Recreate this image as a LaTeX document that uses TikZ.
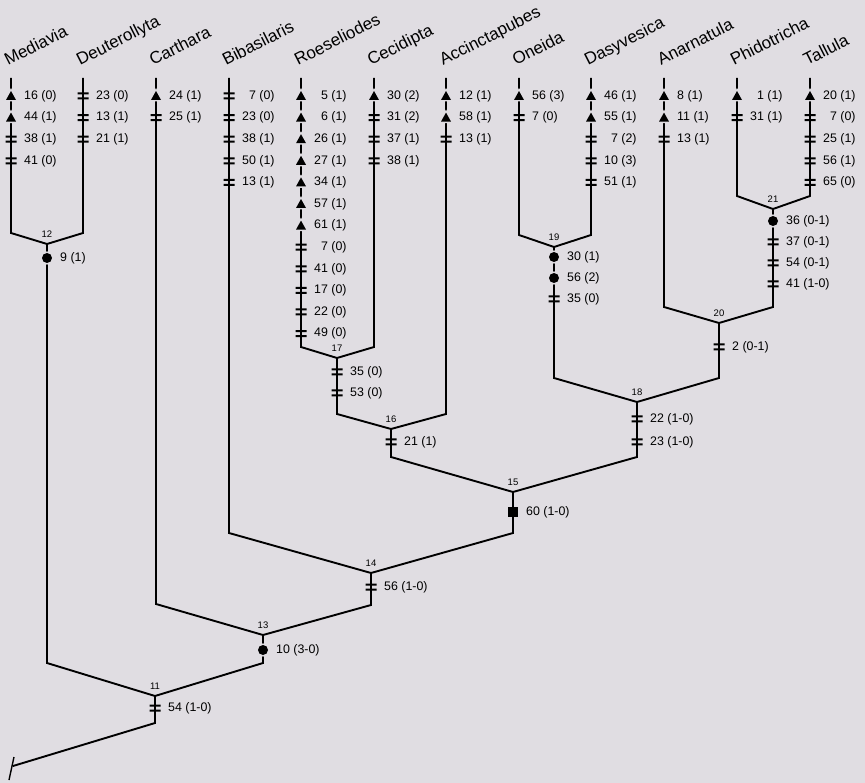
\documentclass[tikz,border=0pt]{standalone}
\usepackage{fontspec}
\setmainfont{Liberation Sans}
\usepackage{tikz}

\definecolor{paper}{RGB}{224,221,226}
\tikzset{
	branch/.style={line width=1.9pt},
	chr/.style={anchor=west, inner sep=0pt, font=\fontsize{12.4}{14}\selectfont},
	taxon/.style={anchor=base west, inner sep=0pt, rotate=27, font=\fontsize{17}{19}\selectfont},
	clade/.style={above=6pt, inner sep=0pt, font=\fontsize{9.5}{11}\selectfont},
	pics/chtri/.style={code={\draw[paper, line width=3pt] (-5,4) -- (5,4) -- (0,-5) -- cycle; \fill (-5,4) -- (5,4) -- (0,-5) -- cycle;}},
	pics/cheq/.style={code={\fill (-5.5,-3.5) rectangle (5.5,-1.5) (-5.5,1.5) rectangle (5.5,3.5);}},
	pics/chdot/.style={code={\draw[paper, line width=3pt] (0,0) circle (5); \fill (0,0) circle (5);}},
	pics/chsq/.style={code={\fill (-5,-5) rectangle (5,5);}}
}

\begin{document}
\begin{tikzpicture}[x=1pt, y=-1pt]
		\fill [paper] (0,0) rectangle (865,783);
		\useasboundingbox (0,0) rectangle (865,783);

		\coordinate (tMed) at (11,78);  \coordinate (bMed) at (11,233);
		\coordinate (tDeu) at (83,78);  \coordinate (bDeu) at (83,233);
		\coordinate (tCar) at (156,78); \coordinate (bCar) at (156,604);
		\coordinate (tBib) at (229,78); \coordinate (bBib) at (229,533);
		\coordinate (tRoe) at (301,78); \coordinate (bRoe) at (301,347);
		\coordinate (tCec) at (374,78); \coordinate (bCec) at (374,347);
		\coordinate (tAcc) at (446,78); \coordinate (bAcc) at (446,414);
		\coordinate (tOne) at (519,78); \coordinate (bOne) at (519,235);
		\coordinate (tDas) at (591,78); \coordinate (bDas) at (591,235);
		\coordinate (tAna) at (664,78); \coordinate (bAna) at (664,307);
		\coordinate (tPhi) at (737,78); \coordinate (bPhi) at (737,196);
		\coordinate (tTal) at (810,78); \coordinate (bTal) at (810,196);

		\coordinate (n11) at (155,696); \coordinate (s11) at (155,723);
		\coordinate (n12) at (47,244);  \coordinate (s12) at (47,663);
		\coordinate (n13) at (263,635); \coordinate (s13) at (263,663);
		\coordinate (n14) at (371,573); \coordinate (s14) at (371,605);
		\coordinate (n15) at (513,492); \coordinate (s15) at (513,533);
		\coordinate (n16) at (391,429); \coordinate (s16) at (391,457);
		\coordinate (n17) at (337,358); \coordinate (s17) at (337,414);
		\coordinate (n18) at (637,402); \coordinate (s18) at (637,457);
		\coordinate (n19) at (554,247); \coordinate (s19) at (554,378);
		\coordinate (n20) at (719,323); \coordinate (s20) at (719,378);
		\coordinate (n21) at (773,209); \coordinate (s21) at (773,307);
		\coordinate (root) at (13,766);
		\coordinate (k1) at (9,780); \coordinate (k2) at (14,757);

		\draw [branch] (tMed) -- (bMed) -- (n12) -- (bDeu) -- (tDeu);
		\draw [branch] (root) -- (s11) -- (n11) -- (s12) -- (n12);
		\draw [branch] (n11) -- (s13) -- (n13) -- (bCar) -- (tCar);
		\draw [branch] (n13) -- (s14) -- (n14) -- (bBib) -- (tBib);
		\draw [branch] (n14) -- (s15) -- (n15) -- (s16) -- (n16) -- (s17) -- (n17) -- (bRoe) -- (tRoe);
		\draw [branch] (n17) -- (bCec) -- (tCec);
		\draw [branch] (n16) -- (bAcc) -- (tAcc);
		\draw [branch] (n15) -- (s18) -- (n18) -- (s19) -- (n19) -- (bOne) -- (tOne);
		\draw [branch] (n19) -- (bDas) -- (tDas);
		\draw [branch] (n18) -- (s20) -- (n20) -- (bAna) -- (tAna);
		\draw [branch] (n20) -- (s21) -- (n21) -- (bPhi) -- (tPhi);
		\draw [branch] (n21) -- (bTal) -- (tTal);
		\draw [line width=1.4pt] (k1) -- (k2);

		\node (Med) at (8,66) [taxon] {Mediavia};
		\node (Deu) at (80,66) [taxon] {Deuterollyta};
		\node (Car) at (153,66) [taxon] {Carthara};
		\node (Bib) at (226,66) [taxon] {Bibasilaris};
		\node (Roe) at (298,66) [taxon] {Roeseliodes};
		\node (Cec) at (371,66) [taxon] {Cecidipta};
		\node (Acc) at (443,66) [taxon] {Accinctapubes};
		\node (One) at (516,66) [taxon] {Oneida};
		\node (Das) at (588,66) [taxon] {Dasyvesica};
		\node (Ana) at (661,66) [taxon] {Anarnatula};
		\node (Phi) at (734,66) [taxon] {Phidotricha};
		\node (Tal) at (807,66) [taxon] {Tallula};

		\foreach \mk/\txt [count=\k from 0] in {chtri/16 (0), chtri/44 (1), cheq/38 (1), cheq/41 (0)}
			{\pic at (11,96+21.6*\k) {\mk}; \node (med\k) at (24,96+21.6*\k) [chr] {\txt};}
		\foreach \mk/\txt [count=\k from 0] in {cheq/23 (0), cheq/13 (1), cheq/21 (1)}
			{\pic at (83,96+21.6*\k) {\mk}; \node (deu\k) at (96,96+21.6*\k) [chr] {\txt};}
		\foreach \mk/\txt [count=\k from 0] in {chtri/24 (1), cheq/25 (1)}
			{\pic at (156,96+21.6*\k) {\mk}; \node (car\k) at (169,96+21.6*\k) [chr] {\txt};}
		\foreach \mk/\txt [count=\k from 0] in {cheq/\phantom{0}7 (0), cheq/23 (0), cheq/38 (1), cheq/50 (1), cheq/13 (1)}
			{\pic at (229,96+21.6*\k) {\mk}; \node (bib\k) at (242,96+21.6*\k) [chr] {\txt};}
		\foreach \mk/\txt [count=\k from 0] in {chtri/\phantom{0}5 (1), chtri/\phantom{0}6 (1), chtri/26 (1), chtri/27 (1), chtri/34 (1), chtri/57 (1), chtri/61 (1), cheq/\phantom{0}7 (0), cheq/41 (0), cheq/17 (0), cheq/22 (0), cheq/49 (0)}
			{\pic at (301,96+21.6*\k) {\mk}; \node (roe\k) at (314,96+21.6*\k) [chr] {\txt};}
		\foreach \mk/\txt [count=\k from 0] in {chtri/30 (2), cheq/31 (2), cheq/37 (1), cheq/38 (1)}
			{\pic at (374,96+21.6*\k) {\mk}; \node (cec\k) at (387,96+21.6*\k) [chr] {\txt};}
		\foreach \mk/\txt [count=\k from 0] in {chtri/12 (1), chtri/58 (1), cheq/13 (1)}
			{\pic at (446,96+21.6*\k) {\mk}; \node (acc\k) at (459,96+21.6*\k) [chr] {\txt};}
		\foreach \mk/\txt [count=\k from 0] in {chtri/56 (3), cheq/7 (0)}
			{\pic at (519,96+21.6*\k) {\mk}; \node (one\k) at (532,96+21.6*\k) [chr] {\txt};}
		\foreach \mk/\txt [count=\k from 0] in {chtri/46 (1), chtri/55 (1), cheq/\phantom{0}7 (2), cheq/10 (3), cheq/51 (1)}
			{\pic at (591,96+21.6*\k) {\mk}; \node (das\k) at (604,96+21.6*\k) [chr] {\txt};}
		\foreach \mk/\txt [count=\k from 0] in {chtri/8 (1), chtri/11 (1), cheq/13 (1)}
			{\pic at (664,96+21.6*\k) {\mk}; \node (ana\k) at (677,96+21.6*\k) [chr] {\txt};}
		\foreach \mk/\txt [count=\k from 0] in {chtri/\phantom{0}1 (1), cheq/31 (1)}
			{\pic at (737,96+21.6*\k) {\mk}; \node (phi\k) at (750,96+21.6*\k) [chr] {\txt};}
		\foreach \mk/\txt [count=\k from 0] in {chtri/20 (1), cheq/\phantom{0}7 (0), cheq/25 (1), cheq/56 (1), cheq/65 (0)}
			{\pic at (810,96+21.6*\k) {\mk}; \node (tal\k) at (823,96+21.6*\k) [chr] {\txt};}

		\pic at (47,258) {chdot};   \node (c12) at (60,258) [chr] {9 (1)};
		\pic at (155,708) {cheq};   \node (c11) at (168,708) [chr] {54 (1-0)};
		\pic at (263,650) {chdot};  \node (c13) at (276,650) [chr] {10 (3-0)};
		\pic at (371,587) {cheq};   \node (c14) at (384,587) [chr] {56 (1-0)};
		\pic at (513,512) {chsq};   \node (c15) at (526,512) [chr] {60 (1-0)};
		\pic at (391,442) {cheq};   \node (c16) at (404,442) [chr] {21 (1)};
		\pic at (719,347) {cheq};   \node (c20) at (732,347) [chr] {2 (0-1)};
		\foreach \mk/\y/\txt [count=\k] in {cheq/372/35 (0), cheq/393/53 (0)}
			{\pic at (337,\y) {\mk}; \node (c17-\k) at (350,\y) [chr] {\txt};}
		\foreach \mk/\y/\txt [count=\k] in {cheq/419/22 (1-0), cheq/442/23 (1-0)}
			{\pic at (637,\y) {\mk}; \node (c18-\k) at (650,\y) [chr] {\txt};}
		\foreach \mk/\y/\txt [count=\k] in {chdot/257/30 (1), chdot/278/56 (2), cheq/299/35 (0)}
			{\pic at (554,\y) {\mk}; \node (c19-\k) at (567,\y) [chr] {\txt};}
		\foreach \mk/\y/\txt [count=\k] in {chdot/221/36 (0-1), cheq/242/37 (0-1), cheq/263/54 (0-1), cheq/284/41 (1-0)}
			{\pic at (773,\y) {\mk}; \node (c21-\k) at (786,\y) [chr] {\txt};}

		\node (l11) at (n11) [clade] {11};
		\node (l12) at (n12) [clade] {12};
		\node (l13) at (n13) [clade] {13};
		\node (l14) at (n14) [clade] {14};
		\node (l15) at (n15) [clade] {15};
		\node (l16) at (n16) [clade] {16};
		\node (l17) at (n17) [clade] {17};
		\node (l18) at (n18) [clade] {18};
		\node (l19) at (n19) [clade] {19};
		\node (l20) at (n20) [clade] {20};
		\node (l21) at (n21) [clade] {21};
	\end{tikzpicture}
\end{document}
